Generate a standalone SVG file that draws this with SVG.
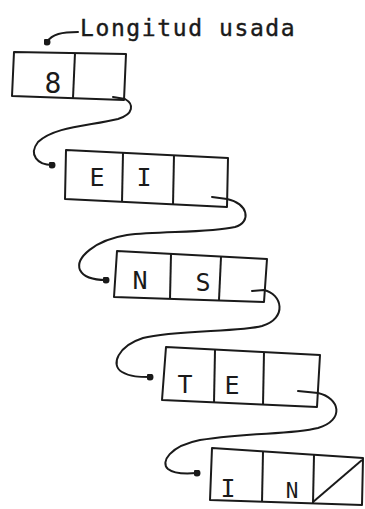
<svg xmlns="http://www.w3.org/2000/svg" width="365" height="509" viewBox="0 0 365 509">
<defs>
<style>
.box{fill:none;stroke:#1a1a1a;stroke-width:2;stroke-linejoin:round}
.div{stroke:#1a1a1a;stroke-width:2}
.con{fill:none;stroke:#1a1a1a;stroke-width:2;stroke-linecap:round}
.lbl{font-family:"DejaVu Sans Mono","Liberation Mono",monospace;font-size:25px;fill:#1a1a1a;text-anchor:middle}
.title{font-family:"DejaVu Sans Mono","Liberation Mono",monospace;font-size:23px;fill:#1a1a1a;letter-spacing:1.6px;stroke:#1a1a1a;stroke-width:0.4}
</style>
<marker id="dot" viewBox="0 0 10 10" refX="5" refY="5" markerWidth="3.5" markerHeight="3.5" markerUnits="strokeWidth">
<circle cx="5" cy="5" r="5" fill="#1a1a1a"/>
</marker>
</defs>
<rect width="365" height="509" fill="#ffffff"/>
<g id="title">
<text class="title" x="80" y="36">Longitud usada</text>
</g>
<g id="node0">
<polygon class="box" points="14,52 126,54 124,100 12,96"/>
<line class="div" x1="75" y1="53" x2="73" y2="98"/>
<text class="lbl" x="53" y="93" style="font-size:28px">8</text>
</g>
<g id="node1">
<polygon class="box" points="66,150 228,158 227,207 65,199"/>
<line class="div" x1="123" y1="153" x2="122" y2="202"/>
<line class="div" x1="174" y1="155" x2="173" y2="205"/>
<text class="lbl" x="97" y="186">E</text>
<text class="lbl" x="144" y="186">I</text>
</g>
<g id="node2">
<polygon class="box" points="117,251 267,259 264,302 114,297"/>
<line class="div" x1="171" y1="254" x2="170" y2="299"/>
<line class="div" x1="221" y1="257" x2="219" y2="300"/>
<text class="lbl" x="140" y="289">N</text>
<text class="lbl" x="203" y="291">S</text>
</g>
<g id="node3">
<polygon class="box" points="166,347 320,355 317,407 162,400"/>
<line class="div" x1="215" y1="350" x2="214" y2="403"/>
<line class="div" x1="264" y1="352" x2="263" y2="405"/>
<text class="lbl" x="185" y="393">T</text>
<text class="lbl" x="232" y="394">E</text>
</g>
<g id="node4">
<polygon class="box" points="212,448 363,458 362,505 210,500"/>
<line class="div" x1="263" y1="452" x2="262" y2="502"/>
<line class="div" x1="314" y1="455" x2="313" y2="503"/>
<line class="div" x1="313" y1="502" x2="362" y2="460"/>
<text class="lbl" x="228" y="497">I</text>
<text class="lbl" x="292" y="498" style="font-size:21px">N</text>
</g>
<g id="connectors">
<path class="con" marker-end="url(#dot)" d="M78,32 C62,32 52,34 47,42"/>
<path class="con" marker-end="url(#dot)" d="M113,97 L125,99 C134,104 134,114 118,119 C90,126 55,126 38,142 C28,155 38,165 52,165"/>
<path class="con" marker-end="url(#dot)" d="M212,197 L227,199 C248,203 252,222 235,227 C210,233 160,231 127,235 C95,240 75,258 80,270 C84,278 95,280 106,280"/>
<path class="con" marker-end="url(#dot)" d="M252,291 L264,290 C282,294 288,318 262,326 C240,332 175,330 143,338 C118,346 110,365 122,372 C130,377 140,377 150,377"/>
<path class="con" marker-end="url(#dot)" d="M298,391 L318,393 C340,398 345,420 318,428 C290,435 250,432 200,440 C170,446 160,462 168,469 C174,474 185,474 197,473"/>
</g>
</svg>
